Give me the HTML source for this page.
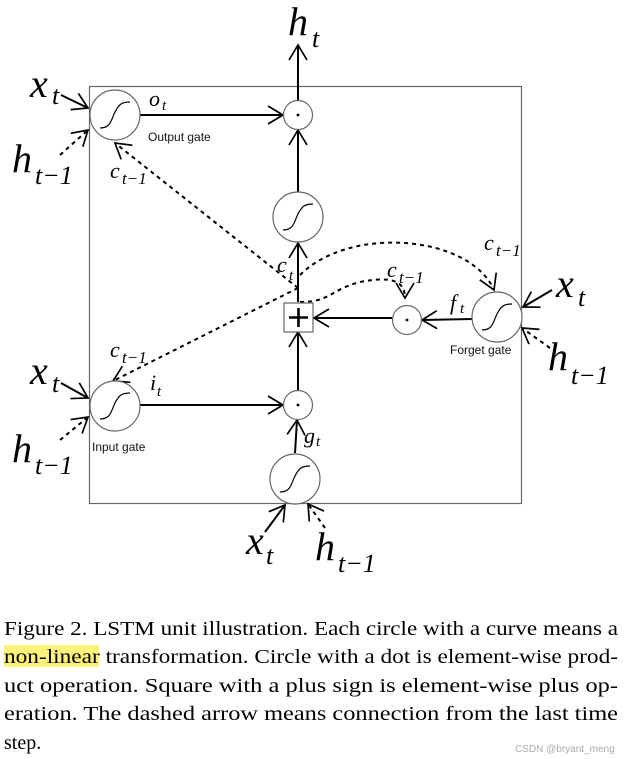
<!DOCTYPE html>
<html><head><meta charset="utf-8"><style>
html,body{margin:0;padding:0;background:#fff;width:628px;height:759px;overflow:hidden}
svg{display:block}
.m{font-family:"Liberation Serif",serif;font-style:italic;fill:#000}
.s{font-family:"Liberation Sans",sans-serif;font-size:12px;fill:#111}
.c{font-family:"Liberation Serif",serif;font-size:20px;fill:#000}
</style></head><body>
<svg width="628" height="759" viewBox="0 0 628 759" xmlns="http://www.w3.org/2000/svg">
<defs>
<marker id="a" markerWidth="18" markerHeight="22" refX="16" refY="11" orient="auto" markerUnits="userSpaceOnUse">
<path d="M1,2 L16,11 L1,20" fill="none" stroke="#000" stroke-width="1.7"/>
</marker>
<g id="sig"><circle r="25" fill="#fff" stroke="#666" stroke-width="1.2"/><path d="M-15,13 C-4,13 -4,5 0,-3 C4,-11 7,-13 15,-13" fill="none" stroke="#000" stroke-width="1.2"/></g>
<g id="dot"><circle r="14.5" fill="#fff" stroke="#666" stroke-width="1.2"/><circle r="1.4" fill="#000"/></g>
</defs>
<rect x="89.5" y="86.5" width="432" height="417" fill="none" stroke="#666" stroke-width="1.2"/>

<g fill="none" stroke="#000" stroke-width="2" stroke-dasharray="4,4">
<line x1="298" y1="288" x2="115" y2="143" marker-end="url(#a)"/>
<line x1="298" y1="288" x2="113" y2="381" marker-end="url(#a)"/>
<path d="M300,275 C350,225 470,235 494,290" marker-end="url(#a)"/>
<path d="M300,302 C330,302 330,290 360,282 C395,275 405,283 405,298" marker-end="url(#a)"/>
<line x1="60" y1="155" x2="88" y2="130" marker-end="url(#a)"/>
<line x1="60" y1="440" x2="88" y2="417" marker-end="url(#a)"/>
<line x1="550" y1="348" x2="522" y2="328" marker-end="url(#a)"/>
<line x1="325" y1="528" x2="308" y2="504" marker-end="url(#a)"/>
</g>

<g fill="none" stroke="#000" stroke-width="2">
<line x1="140" y1="115" x2="283" y2="115" marker-end="url(#a)"/>
<line x1="140" y1="405" x2="283" y2="405" marker-end="url(#a)"/>
<line x1="298" y1="100" x2="298" y2="45" marker-end="url(#a)"/>
<line x1="298" y1="192" x2="298" y2="130" marker-end="url(#a)"/>
<line x1="298" y1="302" x2="298" y2="243" marker-end="url(#a)"/>
<line x1="298" y1="390" x2="298" y2="332" marker-end="url(#a)"/>
<line x1="295" y1="453" x2="297" y2="420" marker-end="url(#a)"/>
<line x1="392" y1="318" x2="314" y2="318" marker-end="url(#a)"/>
<line x1="472" y1="319" x2="422" y2="320" marker-end="url(#a)"/>
<line x1="61" y1="95" x2="88" y2="108" marker-end="url(#a)"/>
<line x1="61" y1="383" x2="88" y2="398" marker-end="url(#a)"/>
<line x1="552" y1="290" x2="523" y2="307" marker-end="url(#a)"/>
<line x1="265" y1="532" x2="285" y2="505" marker-end="url(#a)"/>
</g>

<use href="#sig" x="115" y="115"/>
<use href="#sig" x="298" y="217"/>
<use href="#sig" x="497" y="317"/>
<use href="#sig" x="115" y="406"/>
<use href="#sig" x="295" y="479"/>
<use href="#dot" x="298" y="115"/>
<use href="#dot" x="407" y="320"/>
<use href="#dot" x="298" y="405"/>
<rect x="284" y="303" width="29" height="29" fill="#fff" stroke="#666" stroke-width="1.2"/>
<path d="M289,317.5 H308 M298.5,308 V327" stroke="#000" stroke-width="2.6"/>

<g class="m">
<text x="288" y="35" font-size="40">h</text><text x="312" y="47" font-size="26">t</text>
<text x="30" y="97" font-size="40">x</text><text x="52" y="104" font-size="26">t</text>
<text x="12" y="172" font-size="40">h</text><text x="35" y="184" font-size="26">t−1</text>
<text x="30" y="384" font-size="40">x</text><text x="52" y="392" font-size="26">t</text>
<text x="12" y="462" font-size="40">h</text><text x="35" y="474" font-size="26">t−1</text>
<text x="246" y="554" font-size="40">x</text><text x="266" y="564" font-size="26">t</text>
<text x="315" y="560" font-size="40">h</text><text x="338" y="572" font-size="26">t−1</text>
<text x="556" y="297" font-size="40">x</text><text x="578" y="306" font-size="26">t</text>
<text x="548" y="370" font-size="40">h</text><text x="571" y="384" font-size="26">t−1</text>
<text x="149" y="106" font-size="22">o</text><text x="162" y="110" font-size="15">t</text>
<text x="110" y="178" font-size="22">c</text><text x="122" y="184" font-size="17">t−1</text>
<text x="110" y="357" font-size="22">c</text><text x="122" y="363" font-size="17">t−1</text>
<text x="150" y="390" font-size="22">i</text><text x="157" y="396" font-size="15">t</text>
<text x="277" y="272" font-size="22">c</text><text x="289" y="280" font-size="15">t</text>
<text x="387" y="277" font-size="22">c</text><text x="399" y="283" font-size="17">t−1</text>
<text x="484" y="250" font-size="22">c</text><text x="496" y="256" font-size="17">t−1</text>
<text x="450" y="310" font-size="22">f</text><text x="460" y="313" font-size="15">t</text>
<text x="304" y="443" font-size="22">g</text><text x="316" y="446" font-size="15">t</text>
</g>
<text class="s" x="148" y="141">Output gate</text>
<text class="s" x="92" y="451">Input gate</text>
<text class="s" x="450" y="354">Forget gate</text>

<rect x="4" y="645" width="95" height="22" fill="#fff27a"/>
<text class="c" x="4" y="635" textLength="614" lengthAdjust="spacingAndGlyphs">Figure 2. LSTM unit illustration. Each circle with a curve means a</text>
<text class="c" x="4" y="663" textLength="614" lengthAdjust="spacingAndGlyphs">non-linear transformation. Circle with a dot is element-wise prod-</text>
<text class="c" x="4" y="692" textLength="614" lengthAdjust="spacingAndGlyphs">uct operation.  Square with a plus sign is element-wise plus op-</text>
<text class="c" x="4" y="720" textLength="614" lengthAdjust="spacingAndGlyphs">eration.  The dashed arrow means connection from the last time</text>
<text class="c" x="4" y="749">step.</text>
<text x="515" y="752" font-family="Liberation Sans,sans-serif" font-size="10" fill="#aaa">CSDN @bryant_meng</text>
</svg>
</body></html>
